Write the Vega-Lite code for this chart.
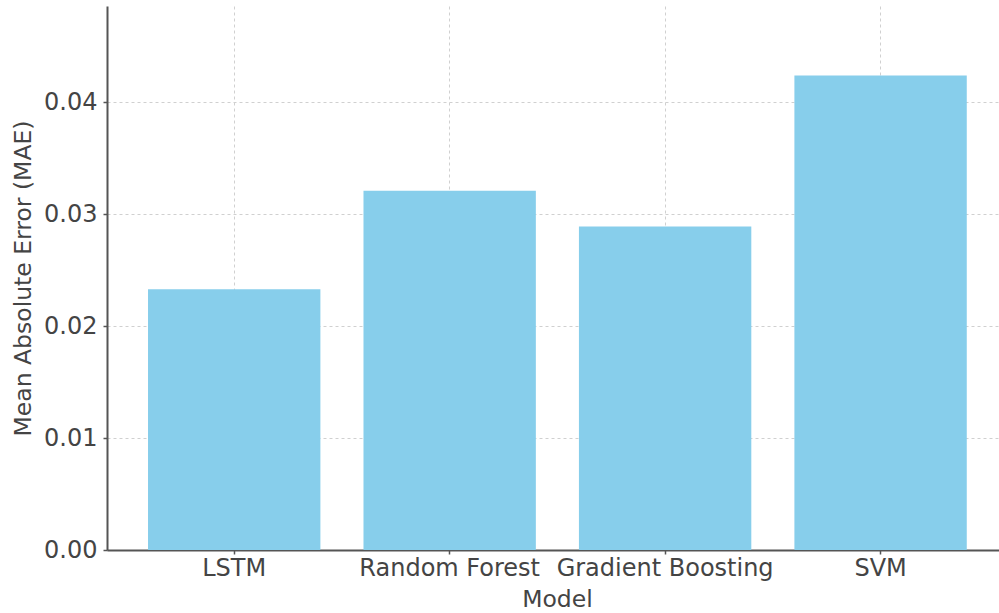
{
  "$schema": "https://vega.github.io/schema/vega-lite/v6.json",
  "width": 892,
  "height": 544,
  "autosize": {"type": "none"},
  "padding": {"left": 107, "top": 6, "right": 0, "bottom": 63},
  "background": "white",
  "config": {
    "view": {"stroke": null},
    "font": "DejaVu Sans",
    "axis": {
      "labelFont": "DejaVu Sans",
      "titleFont": "DejaVu Sans",
      "labelFontSize": 24,
      "titleFontSize": 23.5,
      "labelLimit": 0,
      "labelColor": "#444444",
      "titleColor": "#444444",
      "titleFontWeight": "normal",
      "domainColor": "#555555",
      "domainWidth": 2,
      "tickColor": "#555555",
      "tickSize": 4,
      "tickWidth": 1.5,
      "gridColor": "#d0d0d0",
      "gridDash": [3, 3],
      "gridWidth": 1,
      "zindex": 1
    }
  },
  "data": {
    "values": [
      {"Model": "LSTM", "MAE": 0.0233},
      {"Model": "Random Forest", "MAE": 0.0321},
      {"Model": "Gradient Boosting", "MAE": 0.0289},
      {"Model": "SVM", "MAE": 0.0424}
    ]
  },
  "mark": {"type": "bar", "color": "#87CEEB"},
  "encoding": {
    "x": {
      "field": "Model",
      "type": "nominal",
      "sort": null,
      "scale": {"paddingInner": 0.2, "paddingOuter": 0.17, "align": 0.56},
      "axis": {
        "title": "Model",
        "labelAngle": 0,
        "grid": true,
        "bandPosition": 0.5,
        "labelPadding": 2,
        "titlePadding": 7,
        "titleX": 450
      }
    },
    "y": {
      "field": "MAE",
      "type": "quantitative",
      "scale": {"domain": [0, 0.0486], "nice": false, "zero": true},
      "axis": {
        "title": "Mean Absolute Error (MAE)",
        "values": [0, 0.01, 0.02, 0.03, 0.04],
        "format": ".2f",
        "grid": true,
        "labelPadding": 6,
        "titlePadding": 8
      }
    }
  }
}
